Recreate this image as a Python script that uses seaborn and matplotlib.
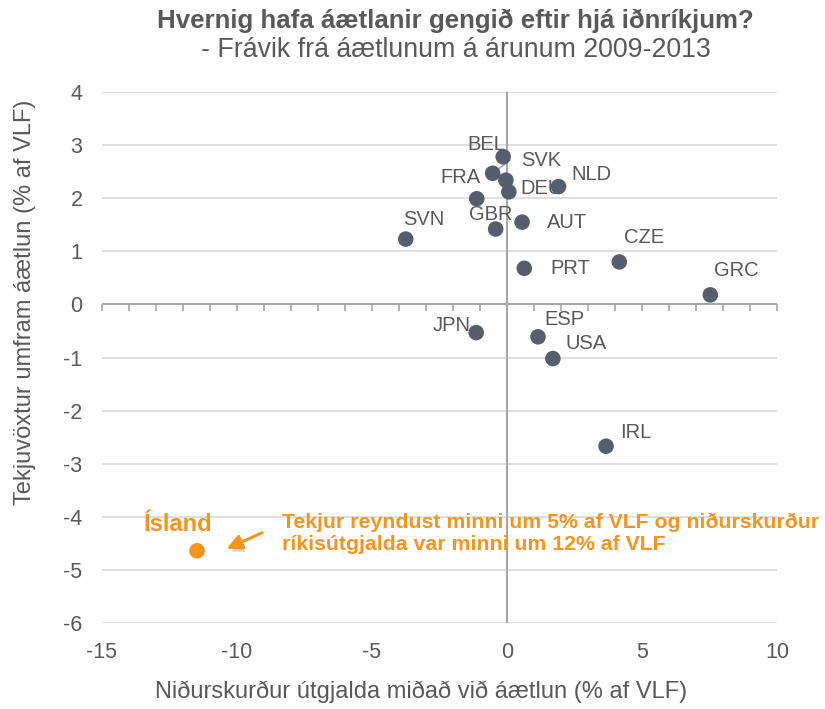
import matplotlib
matplotlib.use("Agg")
import matplotlib.pyplot as plt
import matplotlib.patheffects as pe
import seaborn as sns
import pandas as pd

# data
countries = ["BEL", "SVK", "ITA", "DEU", "NLD", "FRA", "GBR", "AUT", "SVN",
             "PRT", "CZE", "GRC", "IRL", "JPN", "ESP", "USA"]
labels = ["BEL", "SVK", "", "DEU", "NLD", "FRA", "GBR", "AUT", "SVN",
          "PRT", "CZE", "GRC", "IRL", "JPN", "ESP", "USA"]
spending_cut = [-0.14, -0.53, -0.04, 0.07, 1.91, -1.12, -0.42, 0.56, -3.75,
                0.64, 4.16, 7.53, 3.67, -1.14, 1.15, 1.70]
revenue_gap = [2.78, 2.47, 2.34, 2.12, 2.22, 1.99, 1.42, 1.55, 1.23,
               0.68, 0.80, 0.18, -2.67, -0.53, -0.61, -1.02]
# label offsets (pixels) from each point
label_dx = [-17, 49, 0, 33, 33, -16, -5, 45, 18, 46, 25, 26, 30, -25, 26, 33]
label_dy = [12, 13, 0, 3, 12, 21, 15, 0, 20, 0, 24, 24, 14, 7, 17, 15]

iceland_x = [-11.48]
iceland_y = [-4.64]

df = pd.DataFrame({"land": countries, "x": spending_cut, "y": revenue_gap})
ice = pd.DataFrame({"x": iceland_x, "y": iceland_y})

sns.set_style("white")
plt.rcParams["font.family"] = ["Liberation Sans", "DejaVu Sans"]
plt.rcParams["axes.unicode_minus"] = False

gray = "#595959"
dot = "#545F6B"
orange = "#F7941E"

fig = plt.figure(figsize=(8.25, 7.09), dpi=100)
ax = fig.add_axes([0.1236, 0.1213, 0.8182, 0.7489])

for yv in range(-6, 5):
    ax.axhline(yv, color="#D9D9D9", lw=1.2, zorder=0)
ax.axvline(0, color="#A6A6A6", lw=1.5, zorder=1)
ax.axhline(0, color="#A6A6A6", lw=1.5, zorder=1)

sns.scatterplot(data=df, x="x", y="y", ax=ax, color=dot, s=125,
                edgecolor="none", zorder=3, legend=False)
sns.scatterplot(data=ice, x="x", y="y", ax=ax, color=orange, s=125,
                edgecolor="none", zorder=3, legend=False)

for i in range(len(countries)):
    if labels[i]:
        ax.annotate(labels[i], (spending_cut[i], revenue_gap[i]),
                    xytext=(label_dx[i], label_dy[i]), textcoords="offset pixels",
                    ha="center", va="center", fontsize=14.5, color=gray, zorder=2)

# leader line for SVK label
ax.annotate("", xy=(spending_cut[1], revenue_gap[1]), xytext=(17, 13),
            textcoords="offset pixels",
            arrowprops=dict(arrowstyle="-", color="#A6A6A6", lw=1.2,
                            shrinkA=0, shrinkB=4), zorder=2)

ax.annotate("Ísland", (iceland_x[0], iceland_y[0]), xytext=(-19, 26),
            textcoords="offset pixels", ha="center", va="center",
            fontsize=17, fontweight="bold", color=orange)

ax.text(-8.33, -4.31, "Tekjur reyndust minni um 5% af VLF og niðurskurður\n"
        "ríkisútgjalda var minni um 12% af VLF", ha="left", va="center",
        fontsize=15.3, fontweight="bold", color=orange, linespacing=1.22)
ax.annotate("", xy=(-10.38, -4.60), xytext=(-9.07, -4.30),
            arrowprops=dict(arrowstyle="-|>,head_length=0.9,head_width=0.45",
                            color=orange, lw=2.2, shrinkA=0, shrinkB=0,
                            path_effects=[pe.withSimplePatchShadow(offset=(1, -3), alpha=0.2)]))

ax.set_xlim(-15, 10)
ax.set_ylim(-6, 4)
ax.set_xticks(range(-15, 11, 5))
ax.set_yticks(range(-6, 5))
ax.tick_params(axis="both", length=0, labelsize=15.5, labelcolor=gray)
ax.tick_params(axis="x", pad=14)
ax.tick_params(axis="y", pad=14)
for s in ax.spines.values():
    s.set_visible(False)

# minor ticks along the y=0 line
ax2 = ax.twiny()
ax2.set_xlim(ax.get_xlim())
ax2.spines["bottom"].set_position(("axes", 0.6))
for s in ["top", "left", "right", "bottom"]:
    ax2.spines[s].set_visible(False)
ax2.xaxis.set_ticks_position("bottom")
ax2.set_xticks(range(-15, 11))
ax2.tick_params(axis="x", direction="out", length=5, width=1.2,
                color="#A6A6A6", labelbottom=False, labeltop=False)

ax.set_xlabel("Niðurskurður útgjalda miðað við áætlun (% af VLF)",
              fontsize=17, color=gray)
ax.set_ylabel("Tekjuvöxtur umfram áætlun (% af VLF)",
              fontsize=17, color=gray)
ax.xaxis.set_label_coords(0.4726, -0.108)
ax.yaxis.set_label_coords(-0.097, 0.6045)

fig.text(0.552, 0.971, "Hvernig hafa áætlanir gengið eftir hjá iðnríkjum?",
         ha="center", va="center", fontsize=18.6, fontweight="bold", color=gray)
fig.text(0.552, 0.929, "- Frávik frá áætlunum á árunum 2009-2013",
         ha="center", va="center", fontsize=19.3, color=gray)

fig.savefig("out.png", dpi=100)
